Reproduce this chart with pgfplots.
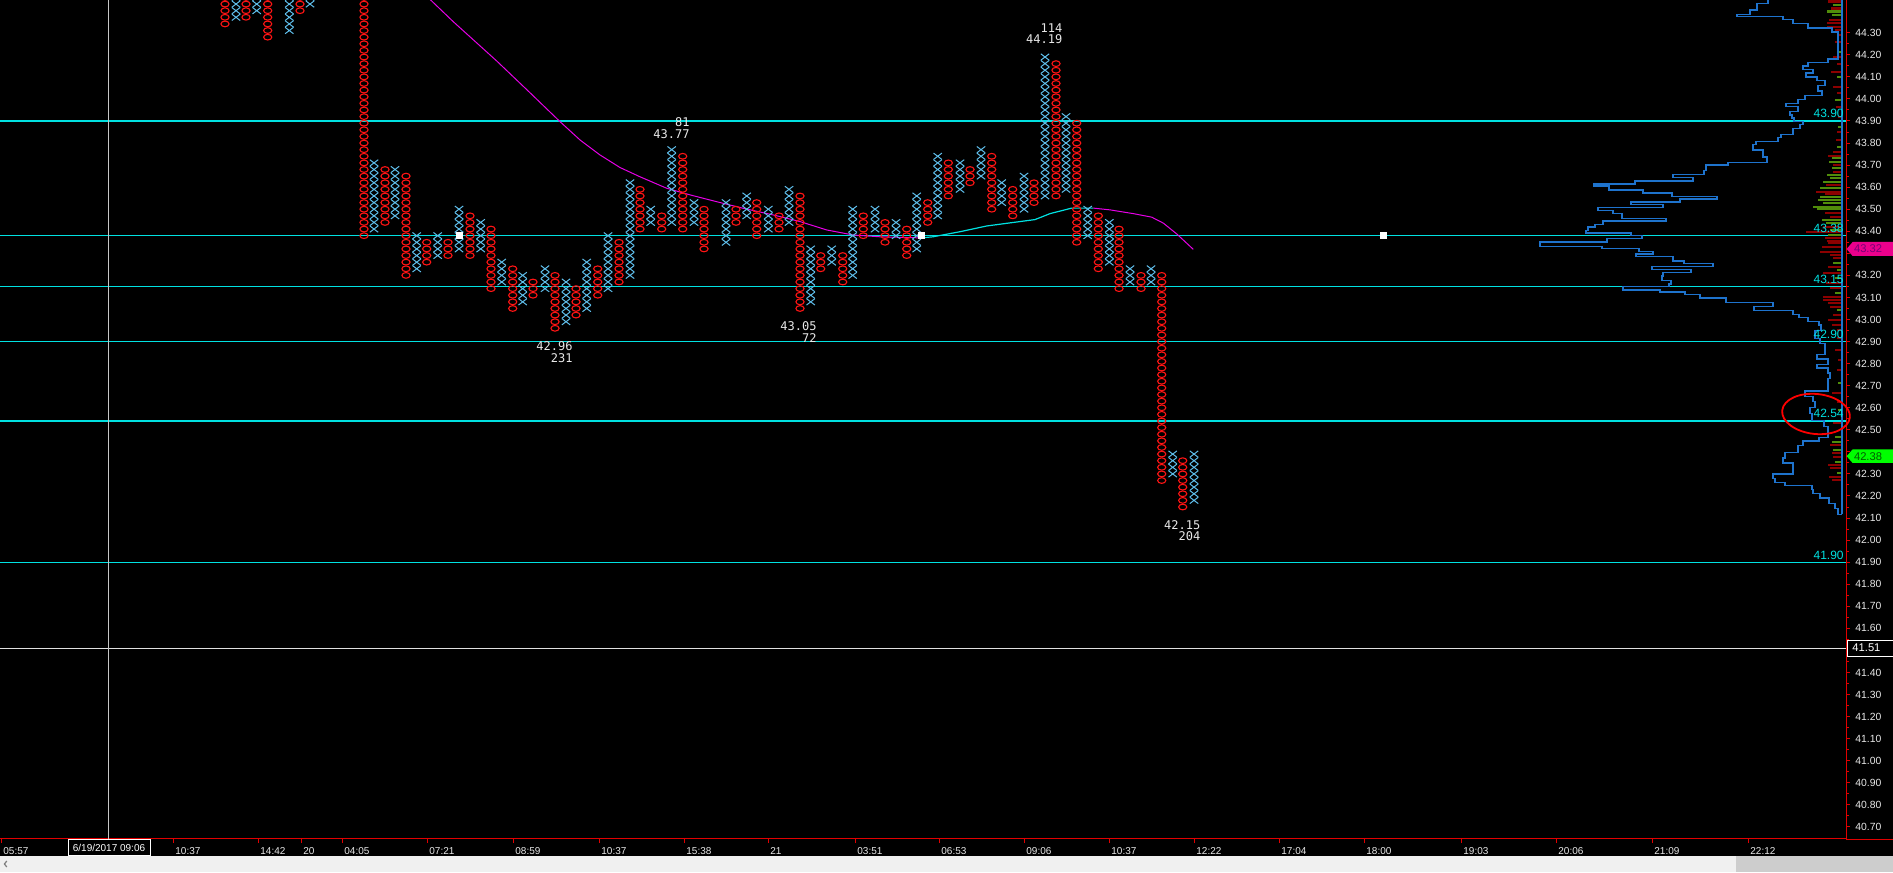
\documentclass[border=0pt]{standalone}
\usepackage{fontspec}
\setmainfont{Liberation Sans}
\newfontfamily\monof{DejaVu Sans Mono}
\usepackage{pgfplots}
\pgfplotsset{compat=1.18}

\definecolor{pfx}{RGB}{95,190,235}
\definecolor{pfo}{RGB}{255,20,20}
\definecolor{lvl}{RGB}{0,225,225}
\definecolor{ma}{RGB}{230,0,230}
\definecolor{prof}{RGB}{30,115,205}
\definecolor{vdark}{RGB}{140,0,0}
\definecolor{vgreen}{RGB}{80,140,10}
\definecolor{axred}{RGB}{225,0,0}
\definecolor{txt}{RGB}{232,232,232}
\definecolor{sbar}{RGB}{240,240,240}
\definecolor{sthumb}{RGB}{205,205,205}

% one mark per P&F column: a stack of boxes from lo up to hi (box = 0.03)
\pgfdeclareplotmark{pfX}{%
  \pgfmathtruncatemacro\pfn{round((\pfhi-\pflo)/0.03)}%
  \pgfsetlinewidth{0.5pt}\pgfsetstrokecolor{pfx}%
  \foreach \pfi in {0,...,\pfn}{%
    \pgfmathsetmacro\pfa{\pfi*3.3088-1.6}%
    \pgfmathsetmacro\pfb{\pfi*3.3088+1.6}%
    \pgfpathmoveto{\pgfpoint{-2.1pt}{\pfa pt}}%
    \pgfpathlineto{\pgfpoint{2.1pt}{\pfb pt}}%
    \pgfpathmoveto{\pgfpoint{-2.1pt}{\pfb pt}}%
    \pgfpathlineto{\pgfpoint{2.1pt}{\pfa pt}}%
    \pgfusepath{stroke}%
  }%
}
\pgfdeclareplotmark{pfO}{%
  \pgfmathtruncatemacro\pfn{round((\pfhi-\pflo)/0.03)}%
  \pgfsetlinewidth{0.55pt}\pgfsetstrokecolor{pfo}%
  \foreach \pfi in {0,...,\pfn}{%
    \pgfmathsetmacro\pfc{\pfi*3.3088}%
    \pgfpathellipse{\pgfpoint{0pt}{\pfc pt}}{\pgfpoint{2.05pt}{0pt}}{\pgfpoint{0pt}{1.42pt}}%
    \pgfusepath{stroke}%
  }%
}

\begin{document}
\begin{tikzpicture}
\useasboundingbox (0,-16.5pt) rectangle (946.5pt,419.5pt);
\fill[black] (0,-8.5pt) rectangle (946.5pt,419.5pt);
\fill[sbar] (0,-16.5pt) rectangle (946.5pt,-8.5pt);
\fill[sthumb] (868pt,-16.5pt) rectangle (946.5pt,-8.5pt);
\draw[gray, line width=0.6pt] (3.4pt,-11pt) -- (2.2pt,-12.5pt) -- (3.4pt,-14pt);

\begin{axis}[
  at={(0pt,0pt)}, anchor=south west,
  scale only axis, width=923pt, height=419.5pt,
  xmin=0, xmax=1846, ymin=40.645, ymax=44.4485,
  axis x line*=bottom, axis y line*=right,
  axis line style={draw=axred, line width=0.5pt},
  clip marker paths=true,
  tick align=outside, major tick length=2pt, minor tick length=1.5pt,
  tick style={draw=axred, line width=0.5pt},
  ytick={40.7,40.8,40.9,41.0,41.1,41.2,41.3,41.4,41.5,41.6,41.7,41.8,41.9,42.0,42.1,42.2,42.3,42.4,42.5,42.6,42.7,42.8,42.9,43.0,43.1,43.2,43.3,43.4,43.5,43.6,43.7,43.8,43.9,44.0,44.1,44.2,44.3},
  yticklabels={40.70,40.80,40.90,41.00,41.10,41.20,41.30,41.40,{},41.60,41.70,41.80,41.90,42.00,42.10,42.20,42.30,{},42.50,42.60,42.70,42.80,42.90,43.00,43.10,43.20,{},43.40,43.50,43.60,43.70,43.80,43.90,44.00,44.10,44.20,44.30},
  minor y tick num=1,
  yticklabel style={font=\fontsize{5.2}{6}\selectfont, text=txt, anchor=west, inner sep=0pt, xshift=2.5pt},
  xtick={1,173,258,301,342,427,513,599,684,768,855,939,1024,1109,1194,1279,1364,1461,1556,1652,1748},
  xticklabels={05:57,10:37,14:42,20,04:05,07:21,08:59,10:37,15:38,21,03:51,06:53,09:06,10:37,12:22,17:04,18:00,19:03,20:06,21:09,22:12},
  xticklabel style={font=\fontsize{5}{6}\selectfont, text=txt, anchor=north west, inner sep=0pt, xshift=1pt, yshift=-2pt},
]

% reference levels
\addplot[lvl, line width=0.6pt] coordinates {(0,43.90) (1846,43.90)};
\addplot[lvl, line width=0.6pt] coordinates {(0,43.38) (1846,43.38)};
\addplot[lvl, line width=0.6pt] coordinates {(0,43.15) (1846,43.15)};
\addplot[lvl, line width=0.6pt] coordinates {(0,42.90) (1846,42.90)};
\addplot[lvl, line width=0.6pt] coordinates {(0,42.54) (1846,42.54)};
\addplot[lvl, line width=0.6pt] coordinates {(0,41.90) (1846,41.90)};
\addplot[white!88!black, line width=0.5pt] coordinates {(0,41.51) (1846,41.51)};
\addplot[white!78!black, line width=0.5pt] coordinates {(108,40.645) (108,44.4485)};

% moving average
\addplot[ma, line width=0.5pt] coordinates {(428,44.46) (453.3,44.350) (465,44.302) (496.7,44.172) (530,44.028) (560,43.897) (580,43.814) (600,43.746) (620,43.689) (640,43.647) (666.7,43.595) (690,43.565) (716.7,43.534) (743.3,43.504) (773.3,43.474) (800,43.444) (826.7,43.406) (853.3,43.383) (880,43.375) (921,43.370)};
\addplot[lvl, line width=0.6pt] coordinates {(921,43.370) (933,43.375) (960,43.398) (986.7,43.424) (1008.3,43.437) (1035,43.453) (1050,43.480) (1071.7,43.505) (1093.3,43.505)};
\addplot[ma, line width=0.5pt] coordinates {(1093.3,43.505) (1110,43.497) (1133.3,43.480) (1151.7,43.464) (1163.3,43.437) (1176.7,43.388) (1193.3,43.318)};

% X columns
\addplot[scatter, only marks, mark=pfX, scatter/use mapped color={draw=pfx},
  visualization depends on={\thisrow{lo}\as\pflo},
  visualization depends on={\thisrow{hi}\as\pfhi}]
  table[x=x, y=lo] {
x lo hi
236 44.37 44.55
256.7 44.40 44.55
289.3 44.31 44.55
310 44.43 44.55
374 43.41 43.71
395 43.47 43.68
416.7 43.23 43.38
437.7 43.29 43.38
459 43.32 43.50
480.7 43.32 43.44
501.7 43.17 43.26
522.7 43.08 43.20
545 43.14 43.23
566 42.99 43.17
586.7 43.05 43.26
608 43.14 43.38
630 43.20 43.62
650.7 43.44 43.50
671.7 43.44 43.77
694 43.44 43.53
726 43.35 43.53
746.7 43.47 43.56
768.3 43.41 43.50
789 43.44 43.59
810.7 43.08 43.32
831.7 43.26 43.32
852.7 43.20 43.50
875 43.41 43.50
896 43.38 43.44
916.7 43.32 43.56
937.7 43.47 43.74
960 43.59 43.71
981 43.65 43.77
1001.7 43.53 43.62
1024 43.50 43.65
1045 43.56 44.19
1066 43.59 43.92
1087.7 43.38 43.50
1109.3 43.26 43.44
1130 43.17 43.23
1151 43.17 43.23
1172.7 42.30 42.39
1194 42.18 42.39
};

% O columns
\addplot[scatter, only marks, mark=pfO, scatter/use mapped color={draw=pfo},
  visualization depends on={\thisrow{lo}\as\pflo},
  visualization depends on={\thisrow{hi}\as\pfhi}]
  table[x=x, y=lo] {
x lo hi
225 44.34 44.55
246 44.37 44.55
267.7 44.28 44.55
300 44.40 44.55
364 43.38 44.55
385 43.44 43.68
406 43.20 43.65
426.7 43.26 43.35
448 43.29 43.35
470 43.29 43.47
491 43.14 43.41
512.7 43.05 43.23
533 43.11 43.17
555 42.96 43.20
576 43.02 43.14
597.7 43.11 43.23
619 43.17 43.35
640 43.41 43.59
661.7 43.41 43.47
682.7 43.41 43.74
704 43.32 43.50
736 43.44 43.50
756.7 43.38 43.53
779 43.41 43.47
800 43.05 43.56
820.7 43.23 43.29
842.7 43.17 43.29
863.3 43.38 43.47
885 43.35 43.44
906.7 43.29 43.41
927.7 43.44 43.53
948.3 43.56 43.71
970 43.62 43.68
991.7 43.50 43.74
1012.7 43.47 43.59
1034 43.53 43.62
1056 43.56 44.16
1076.7 43.35 43.89
1098.3 43.23 43.47
1119 43.14 43.41
1141 43.14 43.20
1161.7 42.27 43.20
1182.7 42.15 42.36
};

\addplot[only marks, mark=square*, mark size=1.5pt, white] coordinates {(459.3,43.38) (921,43.38) (1383.6,43.38)};

% volume bars next to the price scale
\addplot[draw=vdark, line width=1.3pt, quiver={u=-\thisrow{len}, v=0}] table[x expr=1842, y=p] {
p len
44.442 14
44.410 11
44.358 13
44.344 15
44.326 15
44.312 7
44.290 5
44.258 7
44.190 9
44.158 5
44.122 11
44.054 9
44.027 5
43.963 6
43.918 4
43.850 5
43.814 6
43.759 9
43.741 14
43.701 9
43.669 9
43.610 16
43.578 26
43.569 17
43.483 17
43.465 12
43.420 19
43.397 36
43.370 17
43.356 15
43.347 14
43.329 20
43.306 22
43.293 12
43.279 9
43.238 14
43.211 19
43.166 16
43.143 12
43.102 19
43.089 19
43.075 14
43.057 12
43.021 9
42.998 14
42.975 10
42.953 5
42.916 5
42.862 7
42.817 4
42.771 5
42.667 10
42.626 5
42.531 9
42.431 12
42.395 10
42.377 9
42.341 14
42.327 12
42.286 13
42.273 10
};
\addplot[draw=vgreen, line width=1.3pt, quiver={u=-\thisrow{len}, v=0}] table[x expr=1842, y=p] {
p len
44.426 9
44.396 15
44.380 10
44.213 4
44.099 5
43.995 7
43.873 4
43.782 5
43.732 10
43.714 13
43.687 10
43.655 15
43.642 12
43.623 19
43.596 22
43.555 22
43.542 24
43.528 19
43.510 29
43.501 25
43.451 20
43.438 16
43.406 12
43.383 14
43.256 9
43.225 5
43.188 7
43.120 7
43.043 5
42.712 4
42.590 4
42.468 7
42.445 10
42.409 9
42.354 7
42.304 5
};

% volume profile outline
\addplot[prof, line width=0.7pt] coordinates {(1842,44.46)(1842,42.117)};
\addplot[prof, line width=0.7pt] coordinates {
(1768,44.46)(1768,44.432)(1757,44.432)(1757,44.403)(1750,44.403)(1750,44.384)(1737,44.384)(1737,44.374)(1783,44.374)(1783,44.359)(1793,44.359)(1793,44.342)(1808,44.342)(1808,44.321)(1832,44.321)(1832,44.303)(1838,44.303)(1838,44.181)(1828,44.181)(1828,44.165)(1808,44.165)(1808,44.149)(1803,44.149)(1803,44.133)(1813,44.133)(1813,44.117)(1806,44.117)(1806,44.100)(1817,44.100)(1817,44.084)(1825,44.084)(1825,44.060)(1818,44.060)(1818,44.036)(1822,44.036)(1822,44.016)(1805,44.016)(1805,43.998)(1798,43.998)(1798,43.979)(1786,43.979)(1786,43.966)(1798,43.966)(1798,43.943)(1790,43.943)(1790,43.927)(1792,43.927)(1792,43.914)(1794,43.914)(1794,43.898)(1803,43.898)(1803,43.883)(1800,43.883)(1800,43.867)(1793,43.867)(1793,43.838)(1781,43.838)(1781,43.825)(1778,43.825)(1778,43.806)(1756,43.806)(1756,43.793)(1753,43.793)(1753,43.769)(1763,43.769)(1763,43.736)(1767,43.736)(1767,43.713)(1728,43.713)(1728,43.701)(1706,43.701)(1706,43.676)(1704,43.676)(1704,43.657)(1673,43.657)(1673,43.645)(1693,43.645)(1693,43.628)(1635,43.628)(1635,43.615)(1594,43.615)(1594,43.605)(1609,43.605)(1609,43.587)(1643,43.587)(1643,43.574)(1672,43.574)(1672,43.558)(1717,43.558)(1717,43.547)(1680,43.547)(1680,43.532)(1631,43.532)(1631,43.522)(1663,43.522)(1663,43.509)(1598,43.509)(1598,43.495)(1613,43.495)(1613,43.480)(1622,43.480)(1622,43.459)(1666,43.459)(1666,43.446)(1603,43.446)(1603,43.432)(1595,43.432)(1595,43.420)(1588,43.420)(1588,43.404)(1586,43.404)(1586,43.393)(1631,43.393)(1631,43.380)(1642,43.380)(1642,43.367)(1607,43.367)(1607,43.351)(1540,43.351)(1540,43.331)(1602,43.331)(1602,43.323)(1639,43.323)(1639,43.307)(1653,43.307)(1653,43.297)(1636,43.297)(1636,43.286)(1673,43.286)(1673,43.265)(1684,43.265)(1684,43.254)(1713,43.254)(1713,43.239)(1652,43.239)(1652,43.226)(1691,43.226)(1691,43.212)(1663,43.212)(1663,43.197)(1662,43.197)(1662,43.176)(1671,43.176)(1671,43.161)(1669,43.161)(1669,43.150)(1623,43.150)(1623,43.134)(1660,43.134)(1660,43.124)(1685,43.124)(1685,43.113)(1700,43.113)(1700,43.097)(1726,43.097)(1726,43.076)(1773,43.076)(1773,43.058)(1754,43.058)(1754,43.040)(1793,43.040)(1793,43.024)(1799,43.024)(1799,43.008)(1808,43.008)(1808,42.991)(1819,42.991)(1819,42.975)(1821,42.975)(1821,42.951)(1815,42.951)(1815,42.914)(1820,42.914)(1820,42.891)(1825,42.891)(1825,42.842)(1817,42.842)(1817,42.821)(1828,42.821)(1828,42.797)(1817,42.797)(1817,42.781)(1828,42.781)(1828,42.757)(1830,42.757)(1830,42.732)(1828,42.732)(1828,42.676)(1805,42.676)(1805,42.651)(1813,42.651)(1813,42.627)(1815,42.627)(1815,42.600)(1810,42.600)(1810,42.574)(1812,42.574)(1812,42.543)(1824,42.543)(1824,42.514)(1828,42.514)(1828,42.465)(1819,42.465)(1819,42.449)(1803,42.449)(1803,42.428)(1798,42.428)(1798,42.397)(1785,42.397)(1785,42.373)(1783,42.373)(1783,42.349)(1793,42.349)(1793,42.299)(1773,42.299)(1773,42.278)(1775,42.278)(1775,42.261)(1785,42.261)(1785,42.247)(1812,42.247)(1812,42.229)(1813,42.229)(1813,42.211)(1820,42.211)(1820,42.190)(1829,42.190)(1829,42.166)(1835,42.166)(1835,42.142)(1838,42.142)(1838,42.117)(1842,42.117)};

% level labels
\begin{scope}[every node/.style={anchor=south east, inner sep=0pt, yshift=1.3pt, text=lvl, font=\fontsize{6}{7}\selectfont}]
\node at (axis cs:1844,43.90) {43.90};
\node at (axis cs:1844,43.38) {43.38};
\node at (axis cs:1844,43.15) {43.15};
\node at (axis cs:1844,42.90) {42.90};
\node at (axis cs:1844,42.54) {42.54};
\node at (axis cs:1844,41.90) {41.90};
\end{scope}

% column extremes and box counts
\begin{scope}[every node/.style={anchor=east, inner sep=0pt, text=txt, font=\monof\fontsize{6}{7}\selectfont}]
\node at (axis cs:1062.7,44.322) {114};
\node at (axis cs:1062.7,44.270) {44.19};
\node at (axis cs:690,43.895) {81};
\node at (axis cs:690,43.841) {43.77};
\node at (axis cs:573,42.880) {42.96};
\node at (axis cs:573,42.826) {231};
\node at (axis cs:817,42.971) {43.05};
\node at (axis cs:817,42.916) {72};
\node at (axis cs:1200.7,42.069) {42.15};
\node at (axis cs:1200.7,42.017) {204};
\end{scope}
\end{axis}

\draw[axred, line width=0.5pt] (923pt,0pt) -- (946.5pt,0pt);
\draw[red, line width=0.9pt, rotate around={-6:(908pt,212.5pt)}] (908pt,212.5pt) ellipse [x radius=17pt, y radius=10pt];

% price flags on the scale
\fill[magenta] (923.3pt,295pt) -- (926.3pt,298.5pt) -- (946.5pt,298.5pt) -- (946.5pt,291.5pt) -- (926.3pt,291.5pt) -- cycle;
\node[anchor=west, inner sep=0pt, text={rgb,255:red,120;green,0;blue,120}, font=\fontsize{5.6}{6}\selectfont] at (926.8pt,295pt) {43.32};
\fill[green] (923.3pt,191.4pt) -- (926.3pt,194.8pt) -- (946.5pt,194.8pt) -- (946.5pt,188pt) -- (926.3pt,188pt) -- cycle;
\node[anchor=west, inner sep=0pt, text={rgb,255:red,0;green,90;blue,0}, font=\fontsize{5.6}{6}\selectfont] at (926.8pt,191.4pt) {42.38};
\draw[white, fill=black, line width=0.5pt] (923.5pt,91.4pt) rectangle (946.5pt,99.4pt);
\node[anchor=west, inner sep=0pt, text=white, font=\fontsize{5.6}{6}\selectfont] at (926pt,95.4pt) {41.51};

% cursor time flag
\draw[white, fill=black, line width=0.5pt] (34pt,-8.2pt) rectangle (75pt,-0.3pt);
\node[inner sep=0pt, text=white, font=\fontsize{5}{6}\selectfont] at (54.5pt,-4.3pt) {6/19/2017 09:06};
\end{tikzpicture}
\end{document}
